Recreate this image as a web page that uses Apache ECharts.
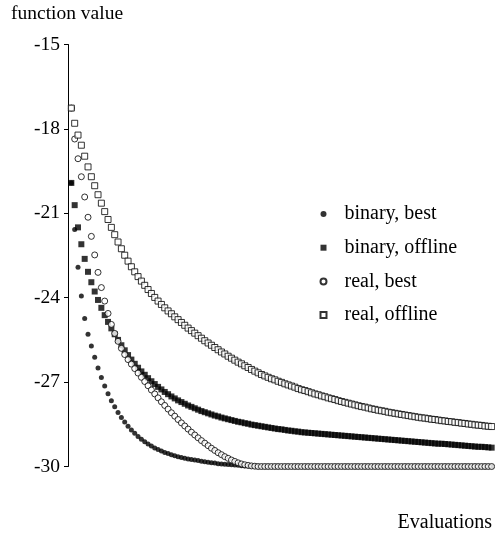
<!DOCTYPE html>
<html>
<head>
<meta charset="utf-8">
<script src="https://cdn.jsdelivr.net/npm/echarts@6/dist/echarts.min.js"></script>
<style>html,body{margin:0;padding:0;background:#fff;}#c{width:495px;height:542px;}</style>
</head>
<body>
<div id="c"></div>
<script>
const seriesNames = ['binary, best', 'binary, offline', 'real, best', 'real, offline'];
const yTicks = [-30, -27, -24, -21, -18, -15];

const binaryBest = [
-19.92,-21.58,-22.92,-23.94,-24.74,-25.30,-25.72,-26.12,-26.50,-26.84,
-27.14,-27.41,-27.66,-27.88,-28.08,-28.26,-28.42,-28.57,-28.70,-28.82,
-28.93,-29.03,-29.12,-29.20,-29.27,-29.34,-29.40,-29.45,-29.50,-29.54,
-29.58,-29.62,-29.65,-29.68,-29.71,-29.73,-29.75,-29.77,-29.79,-29.81,
-29.83,-29.85,-29.87,-29.88,-29.90,-29.91,-29.92,-29.93,-29.94,-29.95,
-29.96,-29.97,-29.98,-29.98,-29.99,-29.99,-30,-30,-30,-30,
-30,-30,-30,-30,-30,-30,-30,-30,-30,-30,
-30,-30,-30,-30,-30,-30,-30,-30,-30,-30,
-30,-30,-30,-30,-30,-30,-30,-30,-30,-30,
-30,-30,-30,-30,-30,-30,-30,-30,-30,-30,
-30,-30,-30,-30,-30,-30,-30,-30,-30,-30,
-30,-30,-30,-30,-30,-30,-30,-30,-30,-30,
-30,-30,-30,-30,-30,-30,-30
];

const binaryOffline = [
-19.92,-20.71,-21.50,-22.10,-22.62,-23.08,-23.45,-23.78,-24.08,-24.36,
-24.62,-24.86,-25.09,-25.30,-25.50,-25.69,-25.87,-26.04,-26.20,-26.35,
-26.49,-26.62,-26.74,-26.86,-26.97,-27.07,-27.17,-27.26,-27.35,-27.43,
-27.51,-27.58,-27.65,-27.71,-27.77,-27.83,-27.88,-27.93,-27.98,-28.03,
-28.07,-28.11,-28.15,-28.19,-28.22,-28.26,-28.29,-28.32,-28.35,-28.38,
-28.41,-28.43,-28.46,-28.48,-28.51,-28.53,-28.55,-28.57,-28.59,-28.61,
-28.63,-28.65,-28.67,-28.68,-28.70,-28.72,-28.73,-28.75,-28.76,-28.78,
-28.79,-28.80,-28.81,-28.82,-28.83,-28.84,-28.85,-28.86,-28.87,-28.88,
-28.89,-28.90,-28.91,-28.92,-28.93,-28.94,-28.95,-28.96,-28.97,-28.98,
-28.99,-29.00,-29.01,-29.02,-29.03,-29.04,-29.05,-29.06,-29.07,-29.08,
-29.09,-29.10,-29.11,-29.12,-29.13,-29.14,-29.15,-29.16,-29.17,-29.18,
-29.19,-29.19,-29.20,-29.21,-29.22,-29.23,-29.24,-29.25,-29.26,-29.27,
-29.28,-29.29,-29.30,-29.30,-29.31,-29.32,-29.33
];

const realBest = [
-17.26,-18.36,-19.06,-19.70,-20.42,-21.14,-21.82,-22.48,-23.10,-23.64,
-24.12,-24.56,-24.95,-25.27,-25.55,-25.80,-26.02,-26.20,-26.36,-26.52,
-26.68,-26.83,-26.98,-27.13,-27.28,-27.42,-27.56,-27.70,-27.83,-27.96,
-28.09,-28.21,-28.33,-28.45,-28.56,-28.67,-28.78,-28.88,-28.98,-29.08,
-29.17,-29.26,-29.35,-29.43,-29.51,-29.58,-29.65,-29.71,-29.77,-29.82,
-29.87,-29.91,-29.94,-29.96,-29.98,-29.99,-30,-30,-30,-30,
-30,-30,-30,-30,-30,-30,-30,-30,-30,-30,
-30,-30,-30,-30,-30,-30,-30,-30,-30,-30,
-30,-30,-30,-30,-30,-30,-30,-30,-30,-30,
-30,-30,-30,-30,-30,-30,-30,-30,-30,-30,
-30,-30,-30,-30,-30,-30,-30,-30,-30,-30,
-30,-30,-30,-30,-30,-30,-30,-30,-30,-30,
-30,-30,-30,-30,-30,-30,-30
];

const realOffline = [
-17.26,-17.80,-18.22,-18.58,-18.97,-19.35,-19.70,-20.02,-20.34,-20.64,
-20.94,-21.22,-21.50,-21.76,-22.02,-22.26,-22.49,-22.70,-22.90,-23.08,
-23.25,-23.41,-23.56,-23.71,-23.85,-23.99,-24.12,-24.24,-24.36,-24.47,
-24.57,-24.68,-24.78,-24.88,-24.98,-25.08,-25.17,-25.26,-25.35,-25.44,
-25.53,-25.61,-25.69,-25.77,-25.85,-25.93,-26.00,-26.08,-26.15,-26.22,
-26.29,-26.35,-26.42,-26.48,-26.55,-26.61,-26.67,-26.73,-26.78,-26.83,
-26.88,-26.92,-26.97,-27.01,-27.06,-27.10,-27.14,-27.18,-27.23,-27.27,
-27.30,-27.34,-27.38,-27.42,-27.45,-27.49,-27.52,-27.56,-27.59,-27.62,
-27.66,-27.69,-27.72,-27.75,-27.78,-27.81,-27.84,-27.87,-27.89,-27.92,
-27.95,-27.97,-28.00,-28.02,-28.04,-28.07,-28.09,-28.11,-28.13,-28.15,
-28.17,-28.19,-28.21,-28.23,-28.25,-28.27,-28.28,-28.30,-28.32,-28.33,
-28.35,-28.37,-28.38,-28.40,-28.41,-28.43,-28.44,-28.46,-28.47,-28.49,
-28.50,-28.52,-28.53,-28.54,-28.56,-28.57,-28.58
];

const FONT = 'Liberation Serif';
const pairs = arr => arr.map((v, k) => [k + 1, v]);

const chart = echarts.init(document.getElementById('c'), null, {renderer: 'canvas'});
const filled = {color: '#000'};
const hollow = {color: '#fff', borderColor: '#000', borderWidth: 1};

chart.setOption({
  animation: false,
  backgroundColor: '#fff',
  grid: {left: 68, right: 0, top: 44.5, bottom: 75.5, containLabel: false},
  xAxis: {type: 'value', min: 0, max: 128, show: false},
  yAxis: {
    type: 'value', min: yTicks[0], max: yTicks[yTicks.length - 1], interval: 3,
    axisLine: {show: true, lineStyle: {color: '#000', width: 1}},
    axisTick: {show: true, inside: false, length: 4, lineStyle: {color: '#000'}},
    axisLabel: {color: '#000', fontFamily: FONT, fontSize: 19.5, margin: 8},
    splitLine: {show: false}
  },
  legend: {
    orient: 'vertical', left: 314.5, top: 199,
    itemWidth: 6, itemHeight: 6, itemGap: 13.7,
    textStyle: {color: '#000', fontFamily: FONT, fontSize: 20, lineHeight: 20, padding: [0, 0, 0, 13]},
    data: [
      {name: seriesNames[0], itemStyle: {color: '#000'}},
      {name: seriesNames[1]},
      {name: seriesNames[2]},
      {name: seriesNames[3]}
    ]
  },
  graphic: [
    {type: 'text', left: 11, top: 4, style: {text: 'function value', font: '19.5px "Liberation Serif"', fill: '#000'}},
    {type: 'text', right: 3, top: 513, style: {text: 'Evaluations', font: '20px "Liberation Serif"', fill: '#000'}}
  ],
  series: [
    {name: seriesNames[0], type: 'scatter', symbol: 'circle', symbolSize: 5, itemStyle: filled, data: pairs(binaryBest)},
    {name: seriesNames[1], type: 'scatter', symbol: 'rect', symbolSize: 6, itemStyle: filled, data: pairs(binaryOffline)},
    {name: seriesNames[2], type: 'scatter', symbol: 'circle', symbolSize: 6, itemStyle: hollow, data: pairs(realBest)},
    {name: seriesNames[3], type: 'scatter', symbol: 'rect', symbolSize: 6, itemStyle: hollow, data: pairs(realOffline)}
  ]
});
</script>
</body>
</html>
